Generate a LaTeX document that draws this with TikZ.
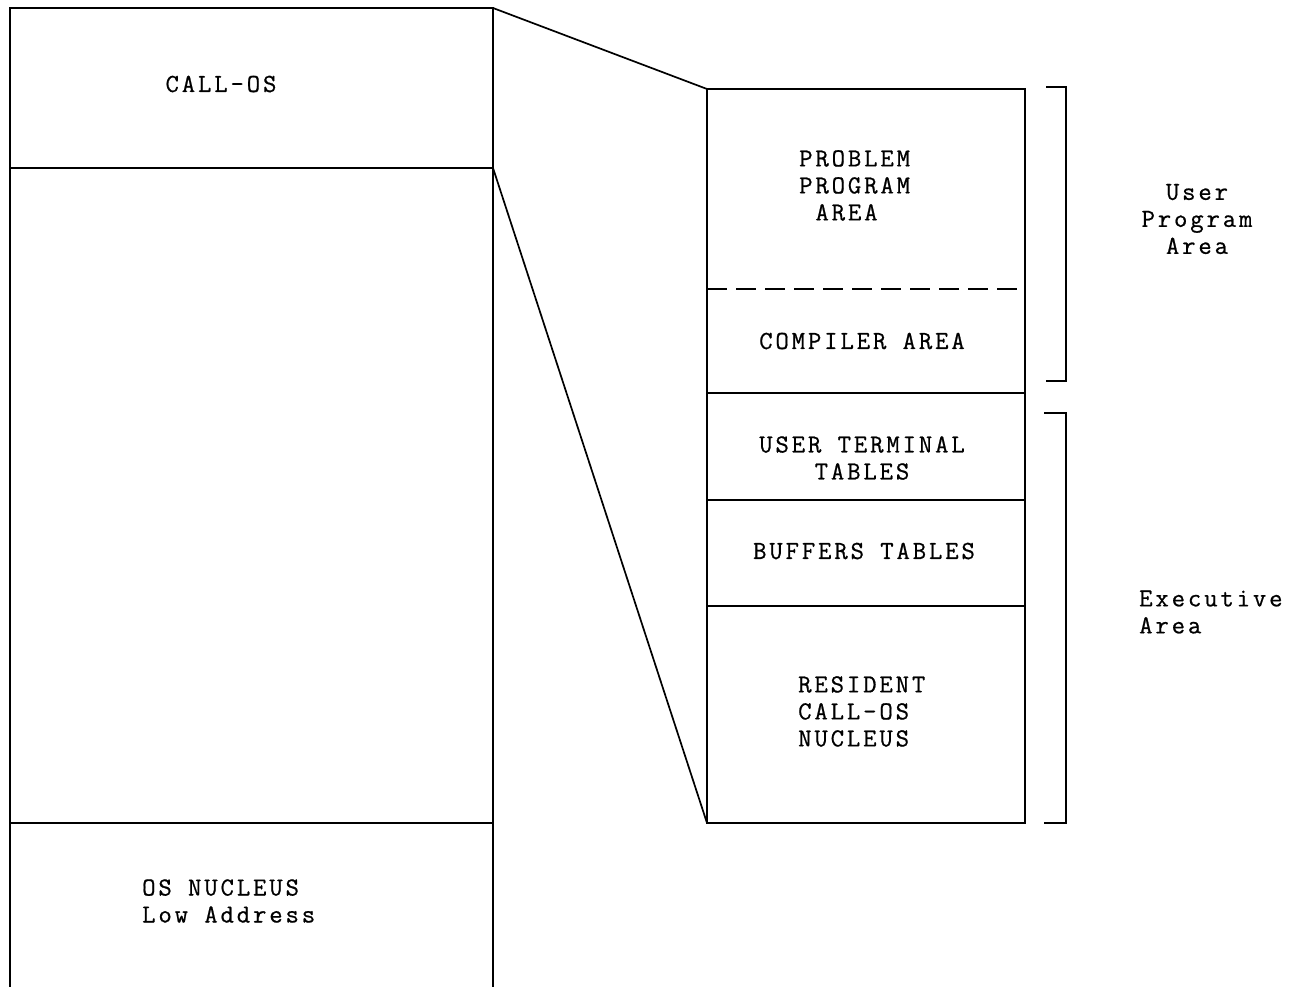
\documentclass[tikz,border=0pt]{standalone}
\usepackage{fontspec}
\setmonofont{Latin Modern Mono}[LetterSpace=11,FakeBold=0.7]
\begin{document}
\begin{tikzpicture}[x=1pt,y=-1pt,
  ln/.style={line width=1.7pt,black},
  lbl/.style={font=\ttfamily\fontsize{26}{27}\selectfont,inner sep=0pt,align=center},
  lbll/.style={font=\ttfamily\fontsize{26}{27}\selectfont,inner sep=0pt,align=left}]
\useasboundingbox (0,0) rectangle (1303,987);
% left column
\coordinate (LTL) at (10,8);
\coordinate (LTR) at (493,8);
\coordinate (LML) at (10,168);
\coordinate (LMR) at (493,168);
\coordinate (LNL) at (10,823);
\coordinate (LNR) at (493,823);
\coordinate (LBL) at (10,987);
\coordinate (LBR) at (493,987);
\draw[ln] (LBL) -- (LTL) -- (LTR) -- (LBR);
\draw[ln] (LML) -- (LMR);
\draw[ln] (LNL) -- (LNR);
% right column
\coordinate (RTL) at (707,89);
\coordinate (RTR) at (1025,89);
\coordinate (RBL) at (707,823);
\coordinate (RBR) at (1025,823);
\draw[ln] (RTL) rectangle (RBR);
\draw[ln,dash pattern=on 20pt off 9pt] (707,289) -- (1025,289);
\draw[ln] (707,393) -- (1025,393);
\draw[ln] (707,500) -- (1025,500);
\draw[ln] (707,606) -- (1025,606);
% connectors
\draw[ln] (LTR) -- (RTL);
\draw[ln] (LMR) -- (RBL);
% brackets
\draw[ln] (1046,87) -- (1066,87) -- (1066,381) -- (1046,381);
\draw[ln] (1044,413) -- (1066,413) -- (1066,823) -- (1044,823);
% labels
\node[lbl] (callos) at (221,84) {CALL-OS};
\node[lbll,anchor=west] (osnuc) at (142,901) {OS NUCLEUS\\Low Address};
\node[lbll,anchor=north west] (ppa) at (799,150) {PROBLEM\\PROGRAM\\\ AREA};
\node[lbl] (comp) at (862,341) {COMPILER AREA};
\node[lbl] (utt) at (862,458) {USER TERMINAL\\TABLES};
\node[lbl] (buf) at (864,551) {BUFFERS TABLES};
\node[lbll,anchor=north west] (res) at (798,676) {RESIDENT\\CALL-OS\\NUCLEUS};
\node[lbl] (upa) at (1197,219) {User\\Program\\Area};
\node[lbll,anchor=west] (exa) at (1139,612) {Executive\\Area};
\end{tikzpicture}
\end{document}
